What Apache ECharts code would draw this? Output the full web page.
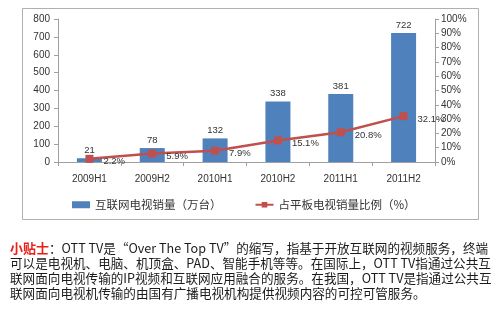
<!DOCTYPE html>
<html><head><meta charset="utf-8">
<script src="https://cdn.jsdelivr.net/npm/echarts@6/dist/echarts.min.js"></script>
<style>html,body{margin:0;padding:0;background:#fff;}#c{width:500px;height:332px;}</style>
</head><body><div id="c"></div>
<script>
var categories = ['2009H1','2009H2','2010H1','2010H2','2011H1','2011H2'];
var salesValues = [21, 78, 132, 338, 381, 722];
var shareValues = [2.2, 5.9, 7.9, 15.1, 20.8, 32.1];
var barName = '互联网电视销量（万台）';
var lineName = '占平板电视销量比例（%）';
var noteLines = [
  ['小贴士', '：OTT TV是“Over The Top TV”的缩写，指基于开放互联网的视频服务，终端'],
  ['', '可以是电视机、电脑、机顶盒、PAD、智能手机等等。在国际上，OTT TV指通过公共互'],
  ['', '联网面向电视传输的IP视频和互联网应用融合的服务。在我国，OTT TV是指通过公共互'],
  ['', '联网面向电视机传输的由国有广播电视机构提供视频内容的可控可管服务。']
];
var font = '"Liberation Sans","Noto Sans CJK SC",sans-serif';
var cjk = '"Noto Sans CJK SC",sans-serif';
var chart = echarts.init(document.getElementById('c'));
var graphics = [{
  type:'rect', shape:{x:22.5,y:8.5,width:456,height:211},
  style:{fill:'none',stroke:'#b0b0b0',lineWidth:1}, silent:true, z:-1
}];
noteLines.forEach(function(l,i){
  graphics.push({type:'text', left:10, top:242+i*15,
    style:{rich:{r:{fill:'#e8201c',fontSize:13,fontFamily:cjk,fontWeight:'bold'},n:{fill:'#1a1a1a',fontSize:12.6,fontFamily:cjk}},
      text:(l[0]?'{r|'+l[0]+'}':'')+'{n|'+l[1]+'}'}});
});
chart.setOption({
  animation:false,
  textStyle:{fontFamily:font},
  grid:{left:58,right:65,top:19,bottom:170},
  legend:{left:72,top:199,padding:0,itemGap:33,itemWidth:18,itemHeight:7,
    textStyle:{fontSize:11.5,color:'#333',fontFamily:cjk},
    data:[{name:barName,icon:'rect'},{name:lineName}]},
  xAxis:{type:'category',data:categories,
    axisLine:{lineStyle:{color:'#a0a0a0'}},
    axisTick:{show:true,alignWithLabel:false,length:4,lineStyle:{color:'#a0a0a0'}},
    axisLabel:{fontSize:10,color:'#333',margin:12}},
  yAxis:[
    {type:'value',min:0,max:800,interval:100,splitLine:{show:false},
      axisLine:{show:true,lineStyle:{color:'#a0a0a0'}},
      axisTick:{show:true,length:4,lineStyle:{color:'#a0a0a0'}},
      axisLabel:{fontSize:10,color:'#333',margin:8}},
    {type:'value',min:0,max:100,interval:10,splitLine:{show:false},position:'right',
      axisLine:{show:true,lineStyle:{color:'#a0a0a0'}},
      axisTick:{show:true,length:4,lineStyle:{color:'#a0a0a0'}},
      axisLabel:{fontSize:10,color:'#333',margin:6,formatter:'{value}%'}}
  ],
  series:[
    {name:barName,type:'bar',data:salesValues,barWidth:25,yAxisIndex:0,
      itemStyle:{color:'#4f81bd'},
      label:{show:true,position:'top',fontSize:9.5,color:'#333',distance:3}},
    {name:lineName,type:'line',data:shareValues,yAxisIndex:1,
      symbol:'rect',symbolSize:8,
      lineStyle:{color:'#c0504d',width:2.5},itemStyle:{color:'#c0504d'},
      label:{show:true,position:'right',fontSize:9.5,color:'#333',distance:10,offset:[0,3],formatter:'{c}%'}}
  ],
  graphic:graphics
});
</script></body></html>
